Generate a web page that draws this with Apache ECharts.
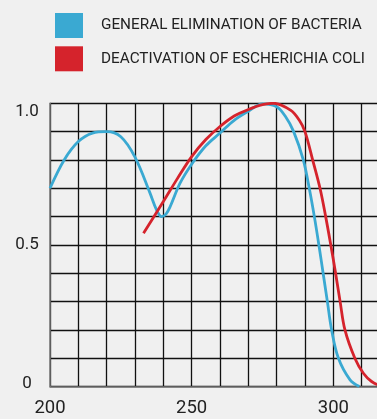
<!DOCTYPE html>
<html>
<head>
<meta charset="utf-8">
<script src="https://cdn.jsdelivr.net/npm/echarts@6/dist/echarts.min.js"></script>
<style>
  html, body { margin: 0; padding: 0; background: #f0f0f0; }
  #chart { width: 377px; height: 419px; }
</style>
</head>
<body>
<div id="chart"></div>
<script>
var seriesNames = ['GENERAL ELIMINATION OF BACTERIA', 'DEACTIVATION OF ESCHERICHIA COLI'];
var seriesColors = ['#3aa9d2', '#d5232c'];

// wavelength (nm), relative effect
var bacteriaData = [
  [200, 0.70], [205, 0.80], [210, 0.865], [215, 0.895], [220, 0.90], [225, 0.882],
  [230, 0.81], [235.3, 0.683], [237.6, 0.624], [239.4, 0.60], [241, 0.61], [242.4, 0.635],
  [245.9, 0.718], [250, 0.785], [255, 0.85], [260, 0.895], [265, 0.94], [270, 0.972],
  [275, 0.998], [280, 0.988], [283, 0.955], [286, 0.90], [289.4, 0.80], [291.5, 0.70],
  [293.3, 0.60], [294.9, 0.50], [296.4, 0.40], [297.9, 0.30], [299.4, 0.20], [301.8, 0.10],
  [305.9, 0.024], [309.2, 0.0]
];
var coliData = [
  [233, 0.541], [240, 0.653], [245, 0.735], [250, 0.812], [255, 0.872], [260, 0.918],
  [265, 0.955], [270, 0.978], [275, 0.995], [279, 1.0], [285, 0.975], [288, 0.94],
  [290, 0.90], [292.7, 0.80], [295.3, 0.70], [297.3, 0.60], [299.1, 0.50], [300.8, 0.40],
  [302.4, 0.30], [304.1, 0.20], [307.6, 0.10], [310.6, 0.047], [313.5, 0.018],
  [316.5, 0.004], [320, 0.0]
];

var xTickLabels = [200, 250, 300];
var yTickLabels = [0, 0.5, 1];

var option = {
  backgroundColor: '#f0f0f0',
  animation: false,
  legend: {
    orient: 'vertical',
    left: 50,
    top: 8,
    itemWidth: 28,
    itemHeight: 25,
    itemGap: 8.3,
    icon: 'rect',
    textStyle: {
      color: '#222',
      fontSize: 15.3,
      fontFamily: 'Roboto',
      padding: [0, 0, 0, 13]
    },
    data: seriesNames
  },
  grid: {
    left: 50,
    top: 103.3,
    height: 283.3,
    width: 340,
    outerBoundsMode: 'none',
    containLabel: false
  },
  xAxis: {
    type: 'value',
    min: 200,
    max: 320,
    interval: 10,
    axisLine: { show: true, lineStyle: { color: '#777', width: 1.5 } },
    axisTick: { show: false },
    splitLine: { show: true, lineStyle: { color: '#111', width: 1.3 } },
    axisLabel: {
      margin: 12,
      color: '#222',
      fontSize: 18.5,
      fontFamily: 'Roboto',
      formatter: function (v) {
        return xTickLabels.indexOf(v) >= 0 ? String(v) : '';
      }
    }
  },
  yAxis: {
    type: 'value',
    min: 0,
    max: 1,
    interval: 0.1,
    axisLine: { show: true, lineStyle: { color: '#777', width: 1.5 } },
    axisTick: { show: false },
    splitLine: { show: true, lineStyle: { color: '#111', width: 1.3 } },
    axisLabel: {
      margin: 23,
      align: 'center',
      color: '#222',
      fontSize: 17,
      fontFamily: 'Roboto',
      formatter: function (v) {
        var r = Math.round(v * 10) / 10;
        if (yTickLabels.indexOf(r) < 0) return '';
        if (r === 1) return '{top|1.0}';
        if (r === 0) return '{bot|0}';
        return r.toFixed(1);
      },
      rich: {
        top: { padding: [16, 0, 0, 0], fontSize: 17, color: '#222', fontFamily: 'Roboto' },
        bot: { padding: [0, 0, 5, 0], fontSize: 17, color: '#222', fontFamily: 'Roboto' }
      }
    }
  },
  series: [
    {
      name: seriesNames[0],
      type: 'line',
      smooth: 0.35,
      symbol: 'none',
      color: seriesColors[0],
      lineStyle: { width: 2.8 },
      data: bacteriaData
    },
    {
      name: seriesNames[1],
      type: 'line',
      smooth: 0.35,
      symbol: 'none',
      color: seriesColors[1],
      lineStyle: { width: 2.8 },
      data: coliData
    }
  ]
};

var myChart = echarts.init(document.getElementById('chart'));
myChart.setOption(option);
window.addEventListener('resize', function () {
  myChart.resize();
});
</script>
</body>
</html>
